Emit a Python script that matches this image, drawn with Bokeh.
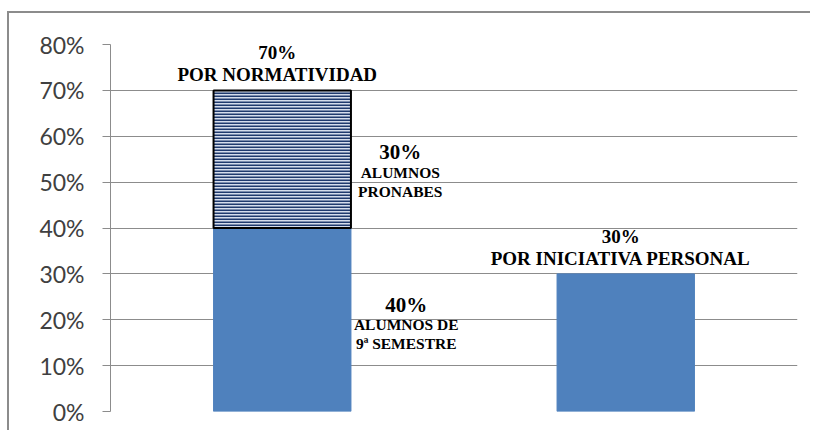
from bokeh.plotting import figure
from bokeh.models import ColumnDataSource, NumeralTickFormatter, FixedTicker, LabelSet
from bokeh.embed import file_html
from bokeh.resources import INLINE

categories = ["1", "2"]
base_vals = [0.40, 0.30]
top_vals = [0.30, 0.0]
y_ticks = [0.0, 0.1, 0.2, 0.3, 0.4, 0.5, 0.6, 0.7, 0.8]

total_pct = ["70%", "30%"]
total_txt = ["POR NORMATIVIDAD", "POR INICIATIVA PERSONAL"]
seg_pct = ["40%", "30%"]
seg_txt1 = ["ALUMNOS DE", "ALUMNOS"]
seg_txt2 = ["9ª SEMESTRE", "PRONABES"]

p = figure(x_range=categories, y_range=(0, 0.8), width=803, height=419,
           output_backend="svg", toolbar_location=None,
           min_border_left=101, min_border_right=15, min_border_top=31, min_border_bottom=21)
p.styles = {"margin-top": "11px", "margin-left": "7px", "border-top": "2px solid #8c8c8c",
            "border-left": "2px solid #8c8c8c"}
p.outline_line_color = None

# bars
src_base = ColumnDataSource(dict(x=categories, top=base_vals))
p.vbar(x="x", top="top", bottom=0, width=0.4, source=src_base,
       fill_color="#4F81BD", line_color="#4F81BD")

hx = [categories[i] for i in range(len(categories)) if top_vals[i] > 0]
hb = [base_vals[i] for i in range(len(categories)) if top_vals[i] > 0]
ht = [base_vals[i] + top_vals[i] for i in range(len(categories)) if top_vals[i] > 0]
src_top = ColumnDataSource(dict(x=hx, bottom=hb, top=ht))
p.vbar(x="x", top="top", bottom="bottom", width=0.4, source=src_top,
       fill_color="#d5ddec", hatch_pattern="horizontal_line", hatch_color="#1F3A6E",
       hatch_scale=3, hatch_weight=2, line_color="black", line_width=2)

FONT = "Liberation Serif"

def add_labels(src, field, size, x_off, y_off, baseline):
    p.add_layout(LabelSet(x="x", y="y", text=field, source=src, text_font=FONT,
                          text_font_style="bold", text_font_size=size, text_align="center",
                          text_baseline=baseline, x_offset=x_off, y_offset=y_off,
                          text_color="black"))

# labels above totals
totals = [base_vals[i] + top_vals[i] for i in range(len(categories))]
src_tot = ColumnDataSource(dict(x=categories, y=totals, pct=total_pct, txt=total_txt))
add_labels(src_tot, "pct", "19px", -5, 27, "bottom")
add_labels(src_tot, "txt", "19px", -5, 5, "bottom")

# segment labels to the right of bar 1
src_lo = ColumnDataSource(dict(x=[categories[0]], y=[base_vals[0] / 2], pct=[seg_pct[0]],
                               t1=[seg_txt1[0]], t2=[seg_txt2[0]]))
src_hi = ColumnDataSource(dict(x=[categories[0]], y=[base_vals[0] + top_vals[0] / 2],
                               pct=[seg_pct[1]], t1=[seg_txt1[1]], t2=[seg_txt2[1]]))
add_labels(src_lo, "pct", "21px", 124, 15, "middle")
add_labels(src_lo, "t1", "15.5px", 124, -5, "middle")
add_labels(src_lo, "t2", "15.5px", 124, -24, "middle")
add_labels(src_hi, "pct", "21px", 118, 7, "middle")
add_labels(src_hi, "t1", "15.5px", 118, -13, "middle")
add_labels(src_hi, "t2", "15.5px", 118, -32, "middle")

# axes
p.xaxis.visible = False
p.xgrid.visible = False
p.ygrid.grid_line_color = "#8c8c8c"
p.ygrid.grid_line_width = 1
p.yaxis.ticker = FixedTicker(ticks=y_ticks)
p.yaxis.formatter = NumeralTickFormatter(format="0%")
p.yaxis.axis_line_color = "#8c8c8c"
p.yaxis.major_tick_line_color = "#8c8c8c"
p.yaxis.major_tick_out = 8
p.yaxis.major_tick_in = 0
p.yaxis.minor_tick_line_color = None
p.yaxis.major_label_text_font = "Lato"
p.yaxis.major_label_text_font_size = "23px"
p.yaxis.major_label_text_color = "#404040"
p.yaxis.major_label_standoff = 18

open("out.html", "w").write(file_html(p, INLINE))
